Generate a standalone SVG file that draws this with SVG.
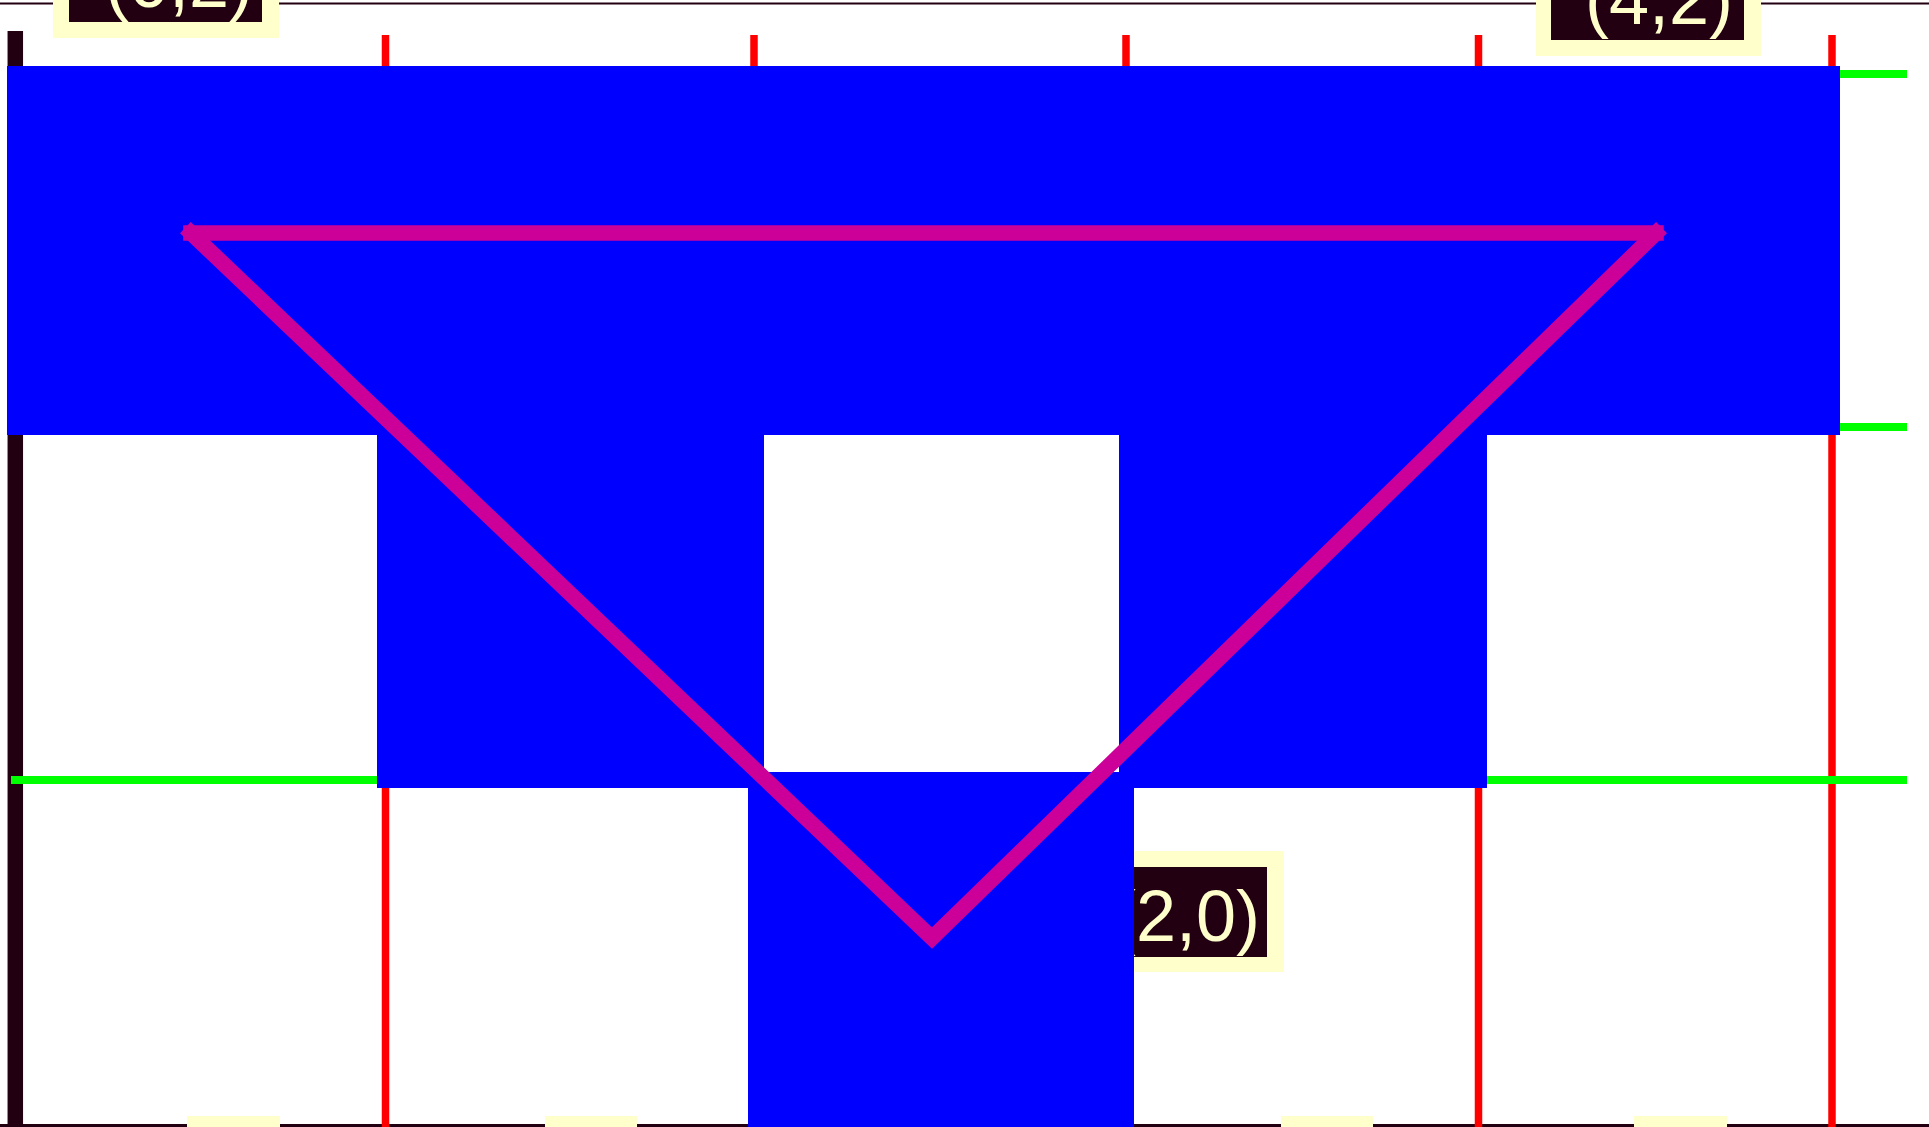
<svg xmlns="http://www.w3.org/2000/svg" width="1929" height="1127" viewBox="0 0 1929 1127">
<style>
.frame{stroke:#220011;fill:none}
.red{stroke:#ff0000;stroke-width:7.5;fill:none}
.green{stroke:#00ff00;stroke-width:8;fill:none}
.pad{fill:#ffffcc}
.box{fill:#220011}
.lbl{fill:#ffffcc;font-family:"Liberation Sans",Arial,sans-serif;font-size:72px}
.tile{fill:#0000ff}
.edge{stroke:#cc0099;stroke-width:15.5;fill:none;stroke-linecap:square;stroke-linejoin:miter;stroke-miterlimit:10}
</style>
<rect width="1929" height="1127" fill="#ffffff"/>
<g id="grid">
<line class="frame" x1="0" y1="3.5" x2="1929" y2="3.5" stroke-width="2"/>
<line class="frame" x1="0" y1="1125.5" x2="1929" y2="1125.5" stroke-width="3"/>
<line class="frame" x1="15.3" y1="31" x2="15.3" y2="1127" stroke-width="15.5"/>
<line class="red" x1="385.5" y1="35" x2="385.5" y2="1127"/>
<line class="red" x1="754" y1="35" x2="754" y2="1127"/>
<line class="red" x1="1126" y1="35" x2="1126" y2="1127"/>
<line class="red" x1="1478.5" y1="35" x2="1478.5" y2="1127"/>
<line class="red" x1="1832" y1="35" x2="1832" y2="1127"/>
<line class="green" x1="11" y1="74" x2="1907" y2="74"/>
<line class="green" x1="11" y1="427" x2="1907" y2="427"/>
<line class="green" x1="11" y1="780" x2="1907" y2="780"/>
</g>
<g id="label-0-2">
<rect class="pad" x="53" y="-84" width="226" height="122"/>
<rect class="box" x="69" y="-68" width="193" height="90"/>
<text class="lbl" x="105" y="7">(0,2)</text>
</g>
<g id="label-4-2">
<rect class="pad" x="1536" y="-66" width="225" height="122"/>
<rect class="box" x="1551" y="-50" width="193" height="90"/>
<text class="lbl" x="1585" y="24">(4,2)</text>
</g>
<g id="label-2-0">
<rect class="pad" x="1059" y="851" width="225" height="121"/>
<rect class="box" x="1075" y="867" width="192" height="90"/>
<text class="lbl" x="1112" y="941">(2,0)</text>
</g>
<g id="tick-1"><rect class="pad" x="187" y="1116" width="93" height="60"/><rect class="box" x="203" y="1132" width="61" height="40"/></g>
<g id="tick-2"><rect class="pad" x="545" y="1116" width="92" height="60"/><rect class="box" x="561" y="1132" width="60" height="40"/></g>
<g id="tick-4"><rect class="pad" x="1281" y="1116" width="92" height="60"/><rect class="box" x="1297" y="1132" width="60" height="40"/></g>
<g id="tick-5"><rect class="pad" x="1634" y="1116" width="93" height="60"/><rect class="box" x="1650" y="1132" width="61" height="40"/></g>
<g id="tile-top"><rect class="tile" x="7" y="66" width="1833" height="369"/></g>
<g id="tile-left"><rect class="tile" x="377" y="430" width="387" height="358"/></g>
<g id="tile-right"><rect class="tile" x="1119" y="430" width="368" height="358"/></g>
<g id="tile-bottom"><rect class="tile" x="748" y="772" width="386" height="360"/></g>
<g id="connectors">
<line class="edge" x1="191" y1="233" x2="1656" y2="233"/>
<polyline class="edge" points="191,233 932,938 1656,233"/>
</g>
</svg>
